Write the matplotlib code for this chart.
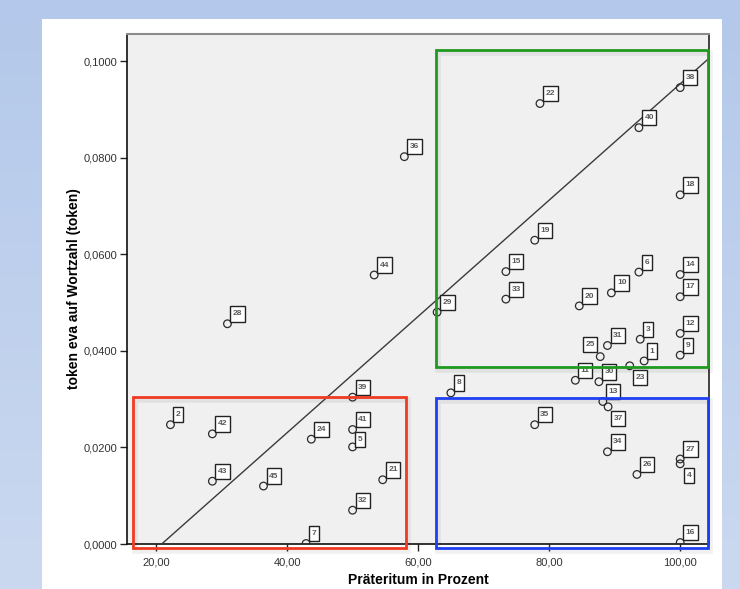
import numpy as np
import matplotlib
matplotlib.use("Agg")
import matplotlib.pyplot as plt
from matplotlib.path import Path
from matplotlib.patches import Rectangle
from matplotlib.colors import LinearSegmentedColormap

plt.rcParams['font.family'] = ['Liberation Sans', 'DejaVu Sans']

# ---- data ----
case_ids = [1, 2, 3, 4, 5, 6, 7, 8, 9, 10,
            11, 12, 13, 14, 15, 16, 17, 18, 19, 20,
            21, 22, 23, 24, 25, 26, 27, 28, 29, 30,
            31, 32, 33, 34, 35, 36, 37, 38, 39, 40,
            41, 42, 43, 44, 45]
praeteritum = [94.5, 22.2, 93.9, 100.0, 50.0, 93.7, 42.9, 65.0, 100.0, 89.5,
               84.0, 100.0, 88.2, 100.0, 73.4, 100.0, 100.0, 100.0, 77.8, 84.6,
               54.6, 78.6, 92.3, 43.7, 87.8, 93.4, 100.0, 30.9, 62.9, 87.6,
               88.9, 50.0, 73.4, 88.9, 77.8, 57.9, 89.0, 100.0, 50.0, 93.7,
               50.0, 28.6, 28.6, 53.3, 36.4]
token_eva = [0.0379, 0.0247, 0.0424, 0.0166, 0.0201, 0.0563, 0.0001, 0.0313, 0.0391, 0.0520,
             0.0339, 0.0436, 0.0295, 0.0558, 0.0564, 0.0003, 0.0512, 0.0723, 0.0629, 0.0493,
             0.0133, 0.0912, 0.0369, 0.0217, 0.0388, 0.0144, 0.0176, 0.0456, 0.0480, 0.0336,
             0.0411, 0.0070, 0.0507, 0.0191, 0.0247, 0.0802, 0.0284, 0.0945, 0.0304, 0.0862,
             0.0237, 0.0228, 0.0130, 0.0557, 0.0120]

# reference line (fit line shown in chart): y = slope * (x - x_intercept)
fit_x_intercept = 20.87
fit_slope = 0.001204

# highlighted regions: (x0, x1, y0, y1, colour)
regions = [
    (62.7, 104.2, 0.0367, 0.1023, '#1f9a1f'),
    (62.7, 104.2, -0.0009, 0.0303, '#1f3ff2'),
    (16.44, 58.17, -0.0009, 0.0304, '#f03a22'),
]

x_ticks = [20, 40, 60, 80, 100]
y_ticks = [0.0, 0.02, 0.04, 0.06, 0.08, 0.10]

# label placement exceptions (text offset in points, ha, va)
label_special = {
    25: (-4.0, 6.0, 'right', 'bottom'),
    23: (4.2, -6.0, 'left', 'top'),
    37: (4.0, -5.8, 'left', 'top'),
    4: (4.5, -6.0, 'left', 'top'),
    5: (3.8, 3.0, 'left', 'bottom'),
}

# ---- figure ----
W, H = 740, 589
fig = plt.figure(figsize=(W / 100, H / 100), dpi=100)

# background gradient + white panel
bg = fig.add_axes([0, 0, 1, 1], zorder=-10)
grad = np.linspace(0, 1, 256).reshape(-1, 1)
cm = LinearSegmentedColormap.from_list('bg', ['#b3c8ea', '#cbd9f0'])
bg.imshow(grad, aspect='auto', cmap=cm, extent=[0, 1, 0, 1], origin='upper')
bg.set_xlim(0, 1)
bg.set_ylim(0, 1)
bg.axis('off')
bg.add_patch(Rectangle((42 / W, 0), 680 / W, 1 - 19 / H, transform=bg.transAxes,
                       facecolor='white', edgecolor='none'))

ax = fig.add_axes([127 / W, 1 - 544 / H, (709 - 127) / W, (544 - 34) / H])
ax.set_facecolor('#f0f0f0')
ax.set_xlim(15.57, 104.4)
ax.set_ylim(0, 0.1056)

# fit line
xl = np.array(ax.get_xlim())
ax.plot(xl, fit_slope * (xl - fit_x_intercept), color='#3a3a3a', lw=1.0, zorder=3)

# regions
for x0, x1, y0, y1, c in regions:
    ax.add_patch(Rectangle((x0 + 0.35, y0 - 0.0006), x1 - x0, y1 - y0, fill=False,
                           edgecolor='#000000', alpha=0.06, lw=4, clip_on=False, zorder=2))
    ax.add_patch(Rectangle((x0, y0), x1 - x0, y1 - y0, fill=False, edgecolor=c,
                           lw=2.0, clip_on=False, zorder=6))

# points
ax.scatter(praeteritum, token_eva, s=30, facecolors='none', edgecolors='#2b2b2b',
           linewidths=0.9, zorder=4)


def tallbox(x0, y0, width, height, mutation_size):
    px = 0.3 * mutation_size
    py = 0.5 * mutation_size
    x0 -= px
    y0 -= py
    x1 = x0 + width + 2 * px
    y1 = y0 + height + 2 * py
    return Path([(x0, y0), (x1, y0), (x1, y1), (x0, y1), (x0, y0)], closed=True)


for cid, xv, yv in zip(case_ids, praeteritum, token_eva):
    dx, dy, ha, va = label_special.get(cid, (4.0, 4.6, 'left', 'bottom'))
    ax.annotate(str(cid), (xv, yv), xytext=(dx, dy), textcoords='offset points',
                ha=ha, va=va, fontsize=6.0, fontweight='bold', color='#5a5a5a',
                bbox=dict(boxstyle=tallbox, facecolor='white', edgecolor='#222222', lw=1.0),
                zorder=5)

# axes styling
for side in ['left', 'bottom']:
    ax.spines[side].set_color('#111111')
    ax.spines[side].set_linewidth(1.2)
ax.spines['top'].set_color('#8c8c8c')
ax.spines['top'].set_linewidth(1.5)
ax.spines['right'].set_color('#222222')
ax.spines['right'].set_linewidth(1.2)

ax.set_xticks(x_ticks)
ax.set_xticklabels([f"{v:.2f}".replace('.', ',') for v in x_ticks])
ax.set_yticks(y_ticks)
ax.set_yticklabels([f"{v:.4f}".replace('.', ',') for v in y_ticks])
ax.tick_params(axis='both', direction='out', length=5, width=1.0, color='#222222',
               labelsize=8, labelcolor='#333333', pad=2)
ax.tick_params(axis='x', pad=5)

ax.set_xlabel('Präteritum in Prozent', fontsize=10, fontweight='bold', labelpad=4)
ax.set_ylabel('token eva auf Wortzahl (token)', fontsize=10, fontweight='bold', labelpad=2)

fig.savefig('out.png', dpi=100)
